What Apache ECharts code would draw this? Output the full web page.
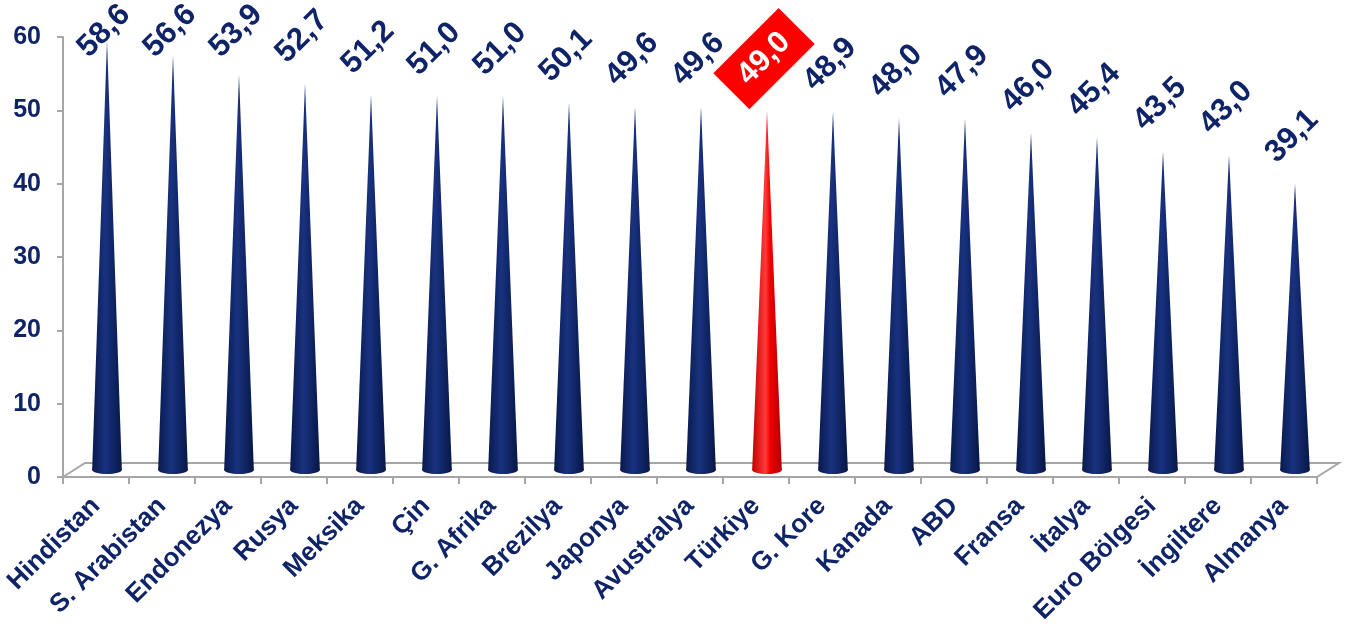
<!DOCTYPE html>
<html>
<head>
<meta charset="utf-8">
<script src="https://cdn.jsdelivr.net/npm/echarts@6/dist/echarts.min.js"></script>
<style>html,body{margin:0;padding:0;background:#fff}#c{width:1347px;height:630px}</style>
</head>
<body>
<div id="c"></div>
<script>
const categories = ['Hindistan','S. Arabistan','Endonezya','Rusya','Meksika','Çin','G. Afrika','Brezilya','Japonya','Avustralya','Türkiye','G. Kore','Kanada','ABD','Fransa','İtalya','Euro Bölgesi','İngiltere','Almanya'];
const values = [58.6,56.6,53.9,52.7,51.2,51.0,51.0,50.1,49.6,49.6,49.0,48.9,48.0,47.9,46.0,45.4,43.5,43.0,39.1];
const highlight = 'Türkiye';
const yTicks = {min: 0, max: 60, interval: 10};

const NAVY = '#0f2468';
const FONT = '"Liberation Sans", Arial, sans-serif';

function fmt(v){ return v.toFixed(1).replace('.', ','); }

function coneGrad(red){
  return {
    type: 'linear', x: 0, y: 0, x2: 1, y2: 0,
    colorStops: red ? [
      {offset: 0, color: '#c00000'}, {offset: 0.45, color: '#ff3b3b'},
      {offset: 0.6, color: '#f00000'}, {offset: 1, color: '#b00000'}
    ] : [
      {offset: 0, color: '#081a4e'}, {offset: 0.45, color: '#1a3280'},
      {offset: 0.6, color: '#132a70'}, {offset: 1, color: '#071746'}
    ]
  };
}

function renderCone(params, api){
  const i = api.value(0), v = api.value(1);
  const top = api.coord([i, v]);
  const base = api.coord([i, 0]);
  const band = api.size([1, 0])[0];
  const depthX = band / 3, depthY = -band * 0.212;
  const cx = base[0] + depthX / 2;
  const by = base[1] + depthY / 2;
  const ty = top[1] + depthY / 2;
  const hw = band * 0.225;
  const red = categories[i] === highlight;
  const grad = coneGrad(red);
  const gTop = params.coordSys.y;
  const ly = Math.max(ty - 47, gTop - 6);
  const label = red ? {
    type: 'text', x: cx - 3, y: ly - 5, rotation: Math.PI / 4,
    style: {text: fmt(v), fill: '#fff', font: 'bold 31px ' + FONT, align: 'center', verticalAlign: 'middle',
            backgroundColor: '#ff0000', padding: [11, 16, 9, 16]}
  } : {
    type: 'text', x: cx - 3, y: ly, rotation: Math.PI / 4,
    style: {text: fmt(v), fill: NAVY, font: 'bold 31px ' + FONT, align: 'center', verticalAlign: 'middle'}
  };
  return {
    type: 'group',
    children: [
      {type: 'ellipse', shape: {cx: cx, cy: by, rx: hw, ry: 4}, style: {fill: grad}},
      {type: 'polygon', shape: {points: [[cx - hw, by], [cx, ty], [cx + hw, by]]}, style: {fill: grad}},
      label
    ]
  };
}

function renderFloor(params, api){
  const cs = params.coordSys;
  const band = api.size([1, 0])[0];
  const dx = band / 3, dy = -band * 0.212;
  const x0 = cs.x, x1 = cs.x + cs.width, y0 = cs.y + cs.height;
  return {
    type: 'polyline',
    shape: {points: [[x0, y0], [x0 + dx, y0 + dy], [x1 + dx, y0 + dy], [x1, y0]]},
    style: {stroke: '#a6a6a6', lineWidth: 2, fill: null}
  };
}

const chart = echarts.init(document.getElementById('c'));
chart.setOption({
  animation: false,
  grid: {left: 63, right: 30, top: 37, bottom: 153, containLabel: false},
  xAxis: {
    type: 'category', data: categories,
    axisLine: {lineStyle: {color: '#a6a6a6', width: 2}},
    axisTick: {show: true, length: 7, interval: 0, lineStyle: {color: '#a6a6a6', width: 2}},
    axisLabel: {interval: 0, rotate: 45, margin: 25, color: NAVY, fontWeight: 'bold', fontSize: 26, fontFamily: FONT}
  },
  yAxis: {
    type: 'value', min: yTicks.min, max: yTicks.max, interval: yTicks.interval,
    axisLine: {show: true, lineStyle: {color: '#a6a6a6', width: 2}},
    axisTick: {show: true, length: 6, lineStyle: {color: '#a6a6a6', width: 2}},
    splitLine: {show: false},
    axisLabel: {margin: 22, color: NAVY, fontWeight: 'bold', fontSize: 25, fontFamily: FONT}
  },
  series: [
    {type: 'custom', renderItem: renderFloor, data: [[0, 0]], z: 1, silent: true, clip: false},
    {type: 'custom', renderItem: renderCone, data: values.map((v, i) => [i, v]), z: 3, clip: false,
     encode: {x: 0, y: 1}}
  ]
});
</script>
</body>
</html>
